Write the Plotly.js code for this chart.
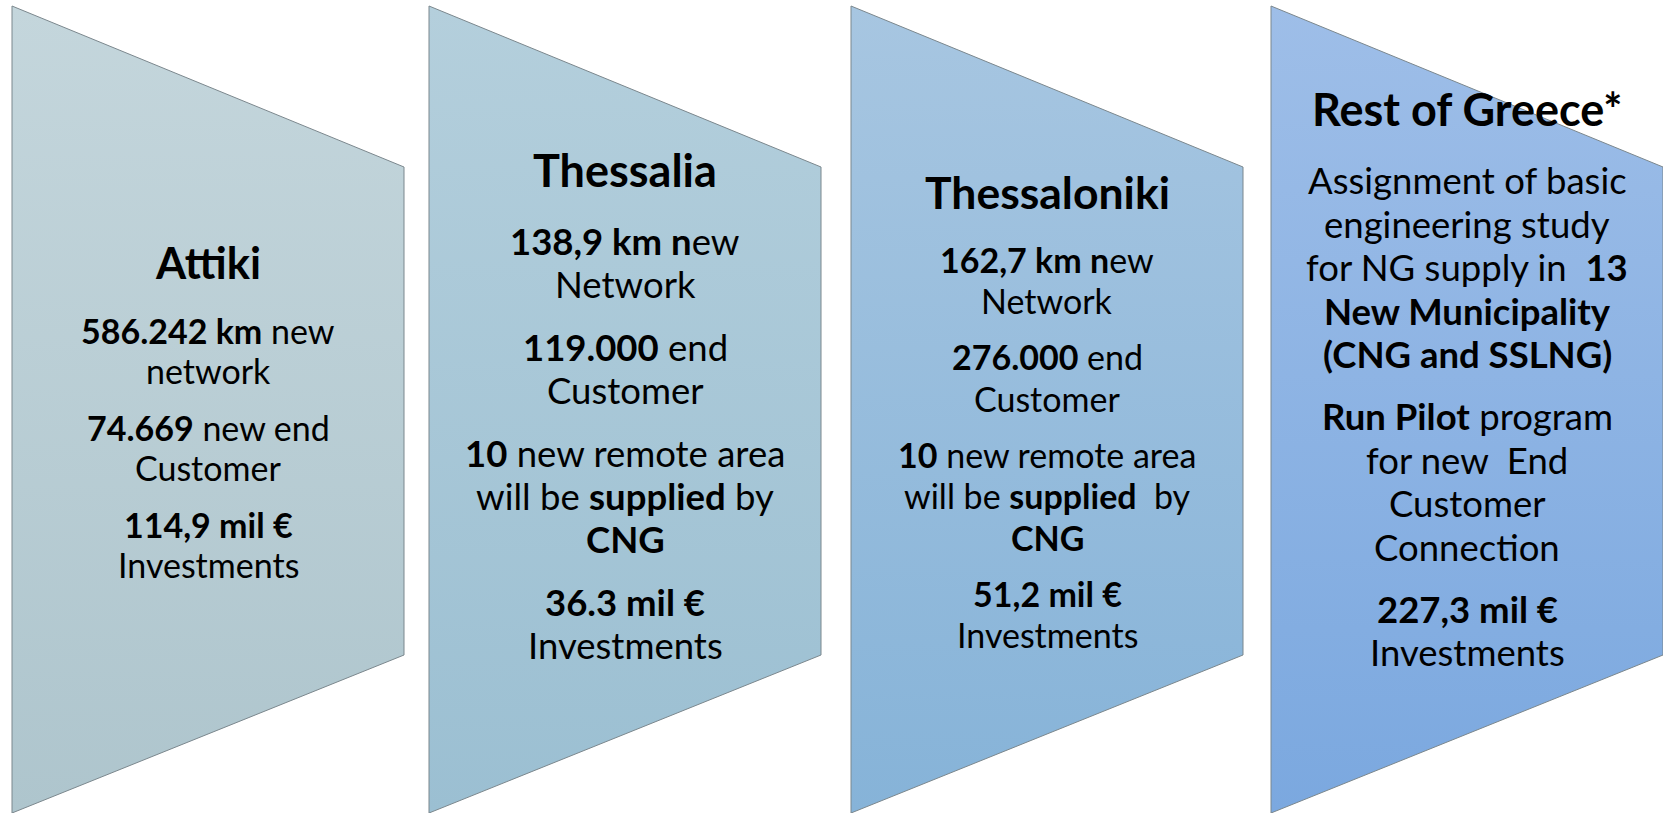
<!DOCTYPE html>
<html>
<head>
<meta charset="utf-8">
<script src="https://cdn.plot.ly/plotly-3.0.1.min.js"></script>
<style>html,body{margin:0;padding:0;background:#fff;}#chart{width:1663px;height:813px;}</style>
</head>
<body>
<div id="chart"></div>
<script>
// ---- data ----
const regions = ['Attiki', 'Thessalia', 'Thessaloniki', 'Rest of Greece*'];

const attikiText = [
  ['<b>586.242 km</b> new', 'network'],
  ['<b>74.669</b> new end', 'Customer'],
  ['<b>114,9 mil €</b>', 'Investments']
];
const thessaliaText = [
  ['<b>138,9 km n</b>ew', 'Network'],
  ['<b>119.000</b> end', 'Customer'],
  ['<b>10</b> new remote area', 'will be <b>supplied</b> by', '<b>CNG</b>'],
  ['<b>36.3 mil €</b>', 'Investments']
];
const thessalonikiText = [
  ['<b>162,7 km n</b>ew', 'Network'],
  ['<b>276.000</b> end', 'Customer'],
  ['<b>10</b> new remote area', 'will be <b>supplied</b>  by', '<b>CNG</b>'],
  ['<b>51,2 mil €</b>', 'Investments']
];
const restText = [
  ['Assignment of basic', 'engineering study', 'for NG supply in  <b>13</b>', '<b>New Municipality</b>', '<b>(CNG and SSLNG)</b>'],
  ['<b>Run Pilot</b> program', 'for new  End', 'Customer', 'Connection'],
  ['<b>227,3 mil €</b>', 'Investments']
];
const regionTexts = [attikiText, thessaliaText, thessalonikiText, restText];

// ---- layout / styling (pixel geometry) ----
const W = 1663, H = 813;
const boxLeft = [12, 429, 851, 1271];
const boxW = 392;
const fillTop = ['#c4d6dc', '#b4cfdc', '#a7c6e1', '#9ebee8'];
const fillBot = ['#aec5cd', '#9bbfd2', '#86b3d8', '#7ba8df'];
const col = [
  {titleY: 262, firstY: 330, lineH: 40,   paraGap: 57, size: 34,   tsize: 43.5},
  {titleY: 170, firstY: 241, lineH: 43,   paraGap: 63, size: 36.5, tsize: 45},
  {titleY: 191, firstY: 259, lineH: 41.5, paraGap: 56, size: 34,   tsize: 44.5},
  {titleY: 109, firstY: 180, lineH: 43.5, paraGap: 62, size: 36.5, tsize: 45}
];
const FONT = 'Lato, "Open Sans", sans-serif';

const py = v => H - v; // pixel-from-top to axis value

const traces = [];
const annotations = [];

regions.forEach((name, i) => {
  const L = boxLeft[i], R = L + boxW;
  traces.push({
    type: 'scatter', mode: 'lines',
    x: [L, R, R, L, L],
    y: [py(6), py(167), py(655), py(813), py(6)],
    fill: 'toself',
    fillgradient: {type: 'vertical', colorscale: [[0, fillBot[i]], [1, fillTop[i]]]},
    line: {color: '#7b878d', width: 1},
    hoverinfo: 'skip', showlegend: false
  });
  const cx = L + boxW / 2;
  const c = col[i];
  annotations.push({
    x: cx, y: py(c.titleY), xref: 'x', yref: 'y', showarrow: false,
    text: '<b>' + name + '</b>', xanchor: 'center', yanchor: 'middle',
    font: {family: FONT, size: c.tsize, color: '#000'}
  });
  let y = c.firstY;
  regionTexts[i].forEach((para, pi) => {
    if (pi > 0) y += c.paraGap - c.lineH;
    para.forEach((line, li) => {
      if (!(pi === 0 && li === 0)) y += c.lineH;
      annotations.push({
        x: cx, y: py(y), xref: 'x', yref: 'y', showarrow: false,
        text: line, xanchor: 'center', yanchor: 'middle',
        font: {family: FONT, size: c.size, color: '#000'}
      });
    });
  });
});

const layout = {
  width: W, height: H,
  margin: {l: 0, r: 0, t: 0, b: 0, pad: 0},
  paper_bgcolor: '#ffffff', plot_bgcolor: '#ffffff',
  xaxis: {range: [0, W], visible: false, fixedrange: true},
  yaxis: {range: [0, H], visible: false, fixedrange: true},
  annotations: annotations,
  showlegend: false
};

Plotly.newPlot('chart', traces, layout, {displayModeBar: false, staticPlot: true});
</script>
</body>
</html>
